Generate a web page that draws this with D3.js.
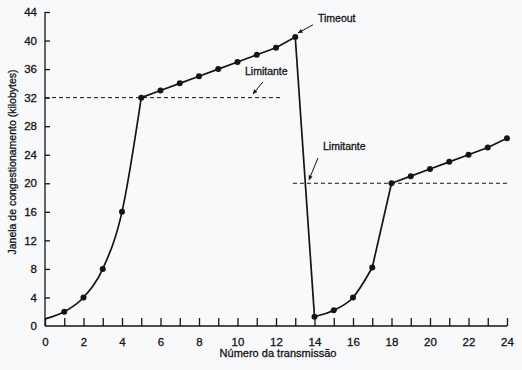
<!DOCTYPE html>
<html><head><meta charset="utf-8">
<script src="https://cdn.jsdelivr.net/npm/d3@7"></script>
<style>
html,body{margin:0;padding:0;background:#f8f9fb;}
svg{display:block;font-family:"Liberation Sans",Arial,sans-serif;}
svg text{stroke:#141414;stroke-width:0.3px;}
</style></head>
<body><svg id="c" width="522" height="370"></svg>
<script>
const rounds = [0,1,2,3,4,5,6,7,8,9,10,11,12,13,14,15,16,17,18,19,20,21,22,23,24];
const cwnd   = [1,2,4,8,16,32,33,34,35,36,37,38,39,40.5,1.3,2.2,4,8.2,20,21,22,23,24,25,26.3];
const markerShown = rounds.map(r => r !== 0);
// segments: [startIndex, endIndex, curved]
const segments = [[0,5,true],[5,13,false],[13,14,false],[14,17,true],[17,18,false],[18,24,false]];
const thresholds = [{value:32, from:0, to:12.3}, {value:20, from:12.88, to:24.15}];
const xTicks = d3.range(0,25,1);
const xTickLabels = [0,2,4,6,8,10,12,14,16,18,20,22,24];
const yTicks = [0,4,8,12,16,20,24,28,32,36,40,44];
const annotations = [
  {text:"Timeout", tx:14.18, ty:42.6, ax0:13.92, ay0:42.2, ax1:13.14, ay1:41.06},
  {text:"Limitante", tx:10.39, ty:35.17, ax0:11.32, ay0:34.2, ax1:10.8, ay1:32.5},
  {text:"Limitante", tx:14.44, ty:24.66, ax0:14.18, ay0:23.54, ax1:13.71, ay1:20.46}
];
const xTitle = "Número da transmissão";
const yTitle = "Janela de congestionamento (kilobytes)";

const svg = d3.select("#c");
const x = d3.scaleLinear().domain([0,24]).range([45,507]);
const y = d3.scaleLinear().domain([0,44]).range([326,12]);
const ink = "#141414";

// axes
const xAxis = d3.axisBottom(x).tickValues(xTicks).tickSize(-8).tickPadding(12)
  .tickFormat(d => xTickLabels.includes(d) ? d : "");
const gx = svg.append("g").attr("transform",`translate(0,${y(0)})`).call(xAxis);
gx.select(".domain").attr("d",`M${x(0)},0H${x(24)}`);
const yAxis = d3.axisLeft(y).tickValues(yTicks).tickSize(-5).tickPadding(8);
const gy = svg.append("g").attr("transform",`translate(${x(0)},0)`).call(yAxis);
gy.select(".domain").attr("d",`M0,${y(0)}V${y(44)}`);
svg.selectAll(".domain, .tick line").attr("stroke",ink).attr("stroke-width",1.3);
svg.selectAll(".tick text").attr("fill",ink).attr("font-size",11.5);
gy.selectAll(".tick").filter(d=>d===0).select("line").remove();

// threshold lines
svg.selectAll(".thr").data(thresholds).join("line")
  .attr("x1",d=>x(d.from)).attr("x2",d=>x(d.to))
  .attr("y1",d=>y(d.value)).attr("y2",d=>y(d.value))
  .attr("stroke",ink).attr("stroke-width",1).attr("stroke-dasharray","4,3");

// data line
const pts = rounds.map((r,i)=>({r, v:cwnd[i], m:markerShown[i]}));
segments.forEach(([a,b,curved])=>{
  const line = d3.line().x(d=>x(d.r)).y(d=>y(d.v))
    .curve(curved ? d3.curveMonotoneX : d3.curveLinear);
  svg.append("path").datum(pts.slice(a,b+1)).attr("d",line)
    .attr("fill","none").attr("stroke",ink).attr("stroke-width",1.7);
});
svg.selectAll(".pt").data(pts.filter(d=>d.m)).join("circle")
  .attr("cx",d=>x(d.r)).attr("cy",d=>y(d.v)).attr("r",3).attr("fill",ink);

// annotations
annotations.forEach(a=>{
  svg.append("text").attr("x",x(a.tx)).attr("y",y(a.ty)).text(a.text)
    .attr("font-size",10.5).attr("fill",ink);
  const x0=x(a.ax0),y0=y(a.ay0),x1=x(a.ax1),y1=y(a.ay1);
  svg.append("line").attr("x1",x0).attr("y1",y0).attr("x2",x1).attr("y2",y1)
    .attr("stroke",ink).attr("stroke-width",1);
  const ang=Math.atan2(y1-y0,x1-x0), L=5, w=0.45;
  svg.append("path").attr("d",`M${x1},${y1}L${x1-L*Math.cos(ang-w)},${y1-L*Math.sin(ang-w)}L${x1-L*Math.cos(ang+w)},${y1-L*Math.sin(ang+w)}Z`)
    .attr("fill",ink);
});

// titles
svg.append("text").attr("x",278).attr("y",357).attr("text-anchor","middle")
  .attr("font-size",11).attr("fill",ink).text(xTitle);
svg.append("text").attr("transform","translate(16,162) rotate(-90)").attr("text-anchor","middle")
  .attr("font-size",10.5).attr("fill",ink).text(yTitle);
</script></body></html>
